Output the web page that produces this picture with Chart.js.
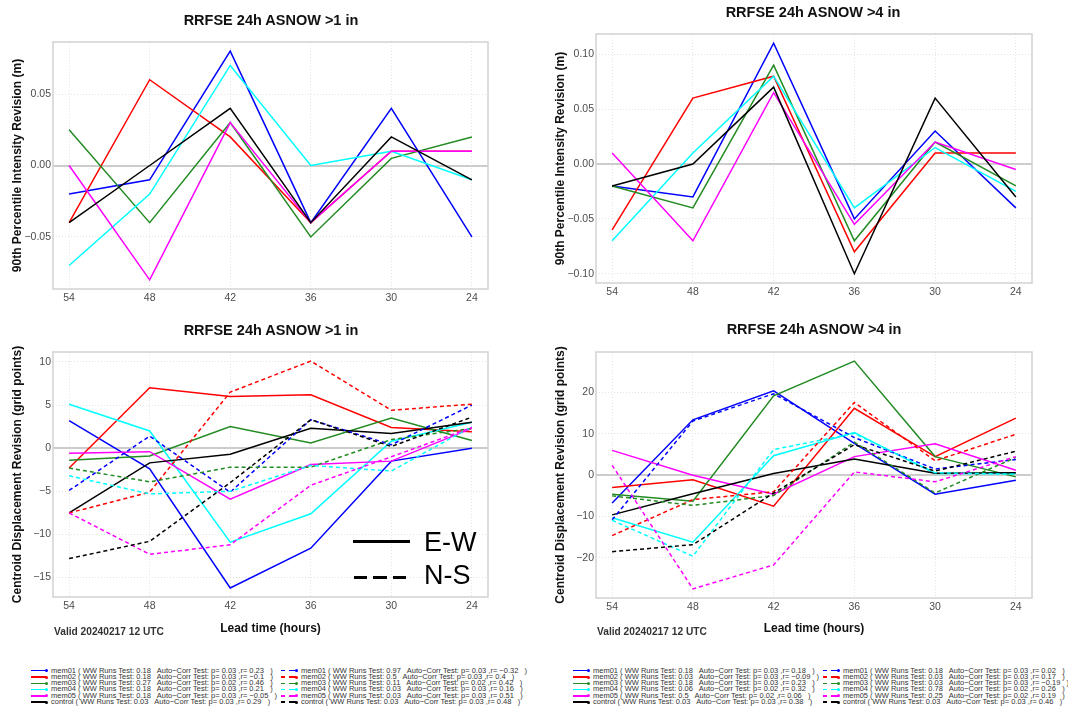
<!DOCTYPE html>
<html>
<head>
<meta charset="utf-8">
<title>RRFSE 24h ASNOW revisions</title>
<script src="https://cdn.jsdelivr.net/npm/chart.js@4.4.1/dist/chart.umd.min.js"></script>
<style>
  body { margin: 0; background: #fff; font-family: "Liberation Sans", Arial, sans-serif; }
  #page { position: relative; width: 1068px; height: 711px; overflow: hidden; background: #fff; }
  #page canvas { position: absolute; }
  .ttl { position: absolute; width: 400px; text-align: center; font-weight: bold; font-size: 14.5px; line-height: 14.5px; color: #111; white-space: nowrap; }
  .valid { position: absolute; font-weight: bold; font-size: 10.2px; line-height: 10.2px; color: #333; white-space: nowrap; }
  .dirtxt { position: absolute; font-size: 27px; line-height: 27px; color: #000; white-space: nowrap; }
  .seg { position: absolute; background: #000; }
  .leg { position: absolute; font-size: 7.5px; line-height: 6.3px; color: #333; white-space: pre; }
  .dot { position: absolute; width: 3px; height: 3px; border-radius: 50%; }
</style>
</head>
<body>
<div id="page">
  <canvas id="intGt1" width="534" height="310" style="left:0;top:0"></canvas>
  <canvas id="intGt4" width="534" height="310" style="left:534px;top:0"></canvas>
  <canvas id="cenGt1" width="534" height="340" style="left:0;top:310px"></canvas>
  <canvas id="cenGt4" width="534" height="340" style="left:534px;top:310px"></canvas>

  <div class="ttl" style="left:71px;top:13px">RRFSE 24h ASNOW &gt;1 in</div>
  <div class="ttl" style="left:613px;top:5px">RRFSE 24h ASNOW &gt;4 in</div>
  <div class="ttl" style="left:71px;top:323px">RRFSE 24h ASNOW &gt;1 in</div>
  <div class="ttl" style="left:614px;top:322px">RRFSE 24h ASNOW &gt;4 in</div>

  <div class="valid" style="left:54px;top:627px">Valid 20240217 12 UTC</div>
  <div class="valid" style="left:597px;top:627px">Valid 20240217 12 UTC</div>

  <!-- line style key -->
  <div class="seg" style="left:353px;top:540px;width:57px;height:3px"></div>
  <div class="seg" style="left:354px;top:576px;width:13px;height:3px"></div>
  <div class="seg" style="left:373px;top:576px;width:14px;height:3px"></div>
  <div class="seg" style="left:393px;top:576px;width:13px;height:3px"></div>
  <div class="dirtxt" style="left:424px;top:529px">E-W</div>
  <div class="dirtxt" style="left:424px;top:562px">N-S</div>

  <div id="legend"></div>
</div>

<script>
Chart.defaults.font.family = '"Liberation Sans", Arial, sans-serif';

const leadHours = [54, 48, 42, 36, 30, 24];
const members = ['mem01', 'mem02', 'mem03', 'mem04', 'mem05', 'control'];
const memberColors = ['#0000ff', '#ff0000', '#228b22', '#00ffff', '#ff00ff', '#000000'];

// 90th percentile intensity revision (m), rows follow members
const intensityGt1 = [
  [-0.02, -0.01, 0.08, -0.04, 0.04, -0.05],
  [-0.04, 0.06, 0.02, -0.04, 0.01, 0.01],
  [0.025, -0.04, 0.03, -0.05, 0.005, 0.02],
  [-0.07, -0.02, 0.07, 0.0, 0.01, -0.01],
  [0.0, -0.08, 0.03, -0.04, 0.01, 0.01],
  [-0.04, 0.0, 0.04, -0.04, 0.02, -0.01]
];
const intensityGt4 = [
  [-0.02, -0.03, 0.11, -0.05, 0.03, -0.04],
  [-0.06, 0.06, 0.08, -0.08, 0.01, 0.01],
  [-0.02, -0.04, 0.09, -0.07, 0.02, -0.02],
  [-0.07, 0.01, 0.08, -0.04, 0.015, -0.025],
  [0.01, -0.07, 0.065, -0.055, 0.02, -0.005],
  [-0.02, 0.0, 0.07, -0.10, 0.06, -0.03]
];

// centroid displacement revision (grid points)
const centroidEwGt1 = [
  [3.2, -2.4, -16.2, -11.6, -1.5, 0.0],
  [-2.3, 7.0, 6.0, 6.2, 2.4, 1.9],
  [-1.4, -0.9, 2.5, 0.6, 3.5, 0.9],
  [5.1, 2.0, -10.9, -7.6, 0.8, 3.0],
  [-0.6, -0.4, -5.9, -1.9, -1.5, 2.3],
  [-7.5, -1.7, -0.7, 2.3, 1.7, 3.0]
];
const centroidNsGt1 = [
  [-4.9, 1.4, -5.1, 3.3, 0.4, 5.0],
  [-7.5, -5.1, 6.5, 10.1, 4.4, 5.1],
  [-2.3, -3.9, -2.2, -2.2, 1.0, 2.3],
  [-3.2, -5.3, -5.0, -2.0, -2.65, 2.5],
  [-7.5, -12.3, -11.2, -4.3, -1.0, 2.4],
  [-12.8, -10.8, -4.0, 3.3, 0.2, 3.6]
];
const centroidEwGt4 = [
  [-6.7, 13.4, 20.4, 7.7, -4.6, -1.2],
  [-3.0, -1.1, -7.5, 16.2, 4.5, 13.8],
  [-4.6, -6.3, 19.2, 27.6, 4.5, -0.4],
  [-10.3, -16.2, 4.7, 10.3, 0.4, 0.4],
  [6.0, 0.0, -4.6, 4.5, 7.6, 1.2],
  [-9.6, -4.5, 0.4, 3.9, 0.5, 0.6]
];
const centroidNsGt4 = [
  [-10.8, 13.1, 19.7, 9.1, 1.5, 3.8],
  [-14.6, -5.9, -4.0, 17.6, 3.5, 9.9],
  [-5.0, -7.3, -4.9, 8.0, -4.3, 4.3],
  [-10.9, -19.6, 6.2, 10.1, 0.6, 0.2],
  [2.4, -27.5, -21.7, 0.8, -1.6, 4.5],
  [-18.5, -16.8, -4.3, 7.4, 1.0, 5.8]
];

// run-test statistics shown in the key under each column
const wwEwGt1 = ['0.18', '0.18', '0.27', '0.18', '0.18', '0.03'];
const pEwGt1 = ['0.03', '0.03', '0.02', '0.03', '0.03', '0.03'];
const rEwGt1 = ['0.23', '−0.1', '0.46', '0.21', '−0.05', '0.29'];
const wwNsGt1 = ['0.97', '0.5', '0.11', '0.03', '0.03', '0.03'];
const pNsGt1 = ['0.03', '0.03', '0.02', '0.03', '0.03', '0.03'];
const rNsGt1 = ['−0.32', '0.4', '0.42', '0.16', '0.51', '0.48'];
const wwEwGt4 = ['0.18', '0.03', '0.18', '0.06', '0.5', '0.03'];
const pEwGt4 = ['0.03', '0.03', '0.03', '0.02', '0.02', '0.03'];
const rEwGt4 = ['0.18', '−0.09', '0.23', '0.32', '0.06', '0.38'];
const wwNsGt4 = ['0.18', '0.03', '0.03', '0.78', '0.25', '0.03'];
const pNsGt4 = ['0.03', '0.03', '0.03', '0.02', '0.02', '0.03'];
const rNsGt4 = ['0.02', '0.17', '−0.19', '0.26', '0.19', '0.46'];

// R-style axis range: data range stretched by 4% on each side
function rRange(rows) {
  const all = [].concat(...rows);
  const lo = Math.min(...all), hi = Math.max(...all);
  const pad = (hi - lo) * 0.04;
  return [lo - pad, hi + pad];
}

function lineSets(rows, dashed) {
  return rows.map((vals, i) => ({
    label: members[i] + (dashed ? ' N-S' : ' E-W'),
    data: vals.map((v, j) => ({ x: leadHours[j], y: v })),
    borderColor: memberColors[i],
    borderWidth: 1.5,
    borderDash: dashed ? [4, 3] : [],
    pointRadius: 0,
    fill: false,
    tension: 0
  }));
}

const isZero = c => c.tick && Math.abs(c.tick.value) < 1e-9;
const minus = v => (v < -1e-9 ? '−' : '');

// light frame round the plotting region
const frameBox = {
  id: 'frameBox',
  beforeDatasetsDraw(chart) {
    const { ctx, chartArea: a } = chart;
    ctx.save();
    ctx.strokeStyle = '#d2d2d2';
    ctx.lineWidth = 1.5;
    ctx.strokeRect(a.left, a.top, a.right - a.left, a.bottom - a.top);
    ctx.restore();
  }
};

function makeChart(id, o) {
  const xSpan = (leadHours[0] - leadHours[leadHours.length - 1]) * 0.04;
  return new Chart(document.getElementById(id), {
    type: 'line',
    data: { datasets: o.datasets.slice().reverse() },
    options: {
      responsive: false,
      animation: false,
      events: [],
      layout: { padding: { left: 0, right: o.right, top: o.top, bottom: 0 } },
      plugins: { legend: { display: false }, tooltip: { enabled: false } },
      scales: {
        x: {
          type: 'linear',
          reverse: true,
          min: leadHours[leadHours.length - 1] - xSpan,
          max: leadHours[0] + xSpan,
          ticks: { stepSize: 6, includeBounds: false, padding: 3, color: '#4d4d4d', font: { size: 10.5 } },
          grid: { drawTicks: false, color: '#e4e4e4', lineWidth: 1 },
          border: { display: false, dash: [1, 2] },
          title: {
            display: !!o.xTitle,
            text: o.xTitle || '',
            color: '#111',
            font: { size: 12, weight: 'bold' },
            padding: { top: 0, bottom: 13.8 }
          },
          afterFit: s => { s.height = o.xHeight; }
        },
        y: {
          min: o.range[0],
          max: o.range[1],
          ticks: {
            stepSize: o.step,
            includeBounds: false,
            padding: 2,
            color: '#4d4d4d',
            font: { size: 10.5 },
            callback: v => minus(v) + Math.abs(v).toFixed(o.digits)
          },
          grid: {
            drawTicks: false,
            color: c => isZero(c) ? '#cccccc' : '#e4e4e4',
            lineWidth: c => isZero(c) ? 2 : 1
          },
          border: { display: false, dash: c => isZero(c) ? [] : [1, 2] },
          title: {
            display: true,
            text: o.yTitle,
            color: '#111',
            font: { size: 12, weight: 'bold' },
            padding: { top: o.yTitlePad, bottom: 0 }
          },
          afterFit: s => { s.width = o.yWidth; }
        }
      }
    },
    plugins: [frameBox]
  });
}

makeChart('intGt1', {
  datasets: lineSets(intensityGt1, false),
  range: rRange(intensityGt1), step: 0.05, digits: 2,
  yTitle: '90th Percentile Intensity Revision (m)',
  right: 46, top: 42, yWidth: 53, xHeight: 21, yTitlePad: 10.8
});

makeChart('intGt4', {
  datasets: lineSets(intensityGt4, false),
  range: rRange(intensityGt4), step: 0.05, digits: 2,
  yTitle: '90th Percentile Intensity Revision (m)',
  right: 36, top: 34, yWidth: 62, xHeight: 27, yTitlePad: 19.5
});

makeChart('cenGt1', {
  datasets: lineSets(centroidEwGt1, false).concat(lineSets(centroidNsGt1, true)),
  range: rRange(centroidEwGt1.concat(centroidNsGt1)), step: 5, digits: 0,
  yTitle: 'Centroid Displacement Revision (grid points)',
  xTitle: 'Lead time (hours)',
  right: 46, top: 42, yWidth: 53, xHeight: 53, yTitlePad: 10.8
});

makeChart('cenGt4', {
  datasets: lineSets(centroidEwGt4, false).concat(lineSets(centroidNsGt4, true)),
  range: rRange(centroidEwGt4.concat(centroidNsGt4)), step: 10, digits: 0,
  yTitle: 'Centroid Displacement Revision (grid points)',
  xTitle: 'Lead time (hours)',
  right: 36, top: 42, yWidth: 62, xHeight: 52, yTitlePad: 19.5
});

// key rows under the bottom panels
const legend = document.getElementById('legend');

function addDiv(cls, style, text) {
  const d = document.createElement('div');
  d.className = cls;
  Object.assign(d.style, style);
  if (text) d.textContent = text;
  legend.appendChild(d);
}

function keyColumn(x0, dashed, ww, p, r) {
  members.forEach((m, i) => {
    const cy = 670.7 + i * 6.3;
    const col = memberColors[i];
    if (dashed) {
      addDiv('seg', { left: x0 + 'px', top: (cy - 0.75) + 'px', width: '4px', height: '1.5px', background: col });
      addDiv('seg', { left: (x0 + 8) + 'px', top: (cy - 0.75) + 'px', width: '7px', height: '1.5px', background: col });
    } else {
      addDiv('seg', { left: x0 + 'px', top: (cy - 0.75) + 'px', width: '15px', height: '1.5px', background: col });
    }
    addDiv('dot', { left: (x0 + 14) + 'px', top: (cy - 1.5) + 'px', background: col });
    const txt = m + ' ( WW Runs Test: ' + ww[i] + '   Auto−Corr Test: p= ' + p[i] + ' ,r= ' + r[i] + '   )';
    addDiv('leg', { left: (x0 + 20) + 'px', top: (cy - 3.2) + 'px' }, txt);
  });
}

keyColumn(31, false, wwEwGt1, pEwGt1, rEwGt1);
keyColumn(281, true, wwNsGt1, pNsGt1, rNsGt1);
keyColumn(573, false, wwEwGt4, pEwGt4, rEwGt4);
keyColumn(823, true, wwNsGt4, pNsGt4, rNsGt4);
</script>
</body>
</html>
